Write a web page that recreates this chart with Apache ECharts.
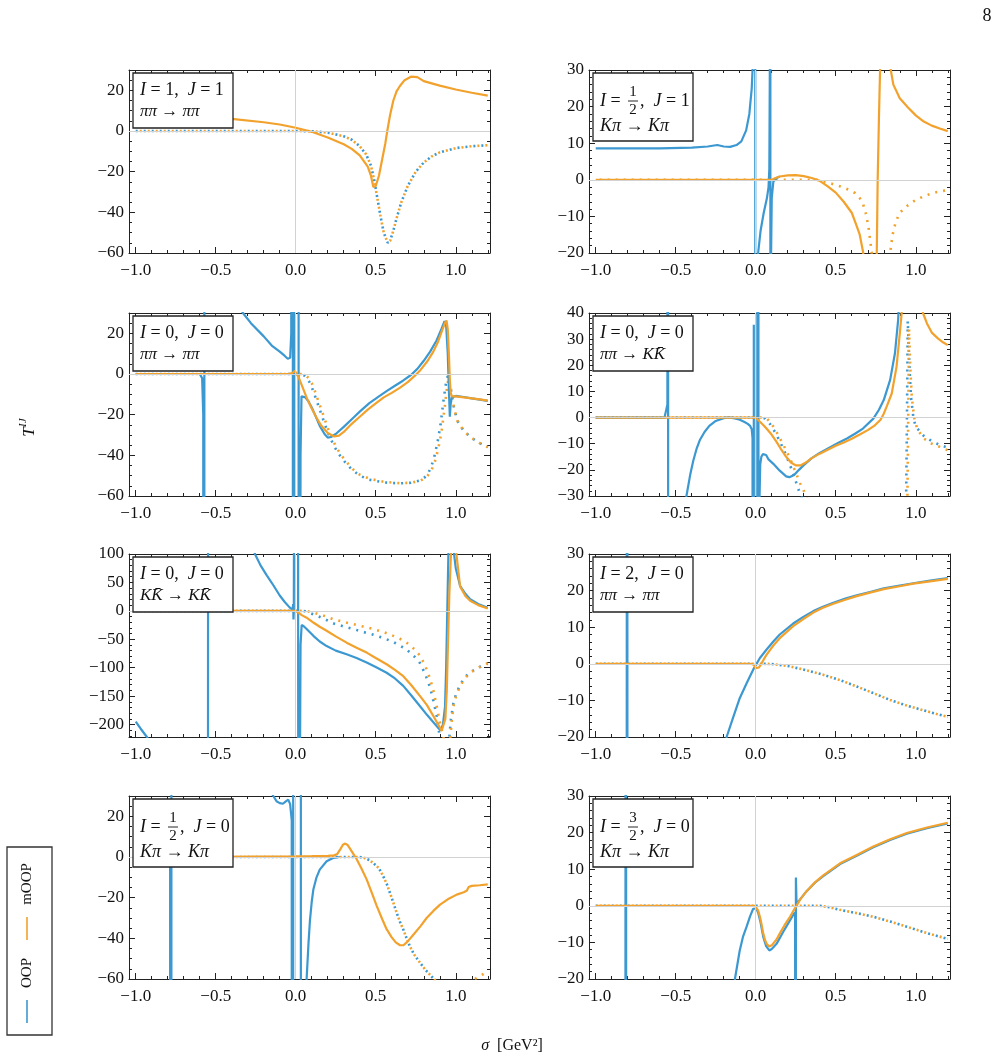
<!DOCTYPE html>
<html>
<head>
<meta charset="utf-8">
<script src="https://cdn.jsdelivr.net/npm/echarts@6.0.0/dist/echarts.min.js"></script>
<style>
  html, body { margin: 0; padding: 0; background: #fff; }
  #chart { width: 1003px; height: 1061px; }
</style>
</head>
<body>
<div id="chart"></div>
<script>
// ---- data: [sigma, T] pairs ----
// I=1, J=1, pipi -> pipi
const moopRe1 = [[-1, 9.6], [-0.8, 8.5], [-0.6, 7.3], [-0.4, 6.0], [-0.2, 4.3], [-0.1, 3.2], [0, 1.6], [0.1, -0.4], [0.2, -3.2], [0.3, -6.5], [0.35, -8.8], [0.4, -12], [0.45, -17.5], [0.47, -22], [0.485, -27.5], [0.5, -27], [0.52, -22], [0.54, -14], [0.56, -6], [0.572, 0], [0.59, 8], [0.61, 15], [0.63, 19.5], [0.65, 22], [0.68, 25], [0.72, 26.7], [0.76, 26.5], [0.8, 24.5], [0.9, 22.3], [1.0, 20.4], [1.1, 18.8], [1.2, 17.4]]
const im1 = [[-1, 0], [0, 0], [0.1, -0.1], [0.2, -0.8], [0.3, -2.6], [0.35, -4.3], [0.4, -7.5], [0.44, -11.5], [0.47, -17], [0.49, -24], [0.51, -33], [0.53, -42], [0.55, -50], [0.575, -55], [0.59, -54], [0.61, -49], [0.63, -43], [0.66, -35], [0.7, -27], [0.75, -20], [0.8, -15.5], [0.85, -12.5], [0.9, -10.5], [1.0, -8.4], [1.1, -7.5], [1.2, -7.0]]

// I=1/2, J=1, Kpi -> Kpi
const oopRe2 = [[-1, 8.6], [-0.6, 8.6], [-0.4, 8.8], [-0.3, 9.1], [-0.24, 9.5], [-0.2, 9.1], [-0.16, 9.0], [-0.12, 9.5], [-0.09, 10.5], [-0.06, 13.5], [-0.04, 18], [-0.025, 25], [-0.015, 35], [-0.008, 80], [-0.005, 3000], [-0.001, -3000], [0.008, -40], [0.015, -20], [0.03, -14], [0.05, -9], [0.07, -5], [0.08, -2], [0.085, 3], [0.088, 30], [0.09, 3000], [0.093, -3000], [0.096, -20], [0.1, -5], [0.11, -0.5], [0.13, 0.5], [0.15, 0.9]]
const moopRe2 = [[-1, 0], [0.1, 0], [0.12, 0.4], [0.15, 0.9], [0.2, 1.2], [0.25, 1.3], [0.3, 1.0], [0.35, 0.5], [0.4, -0.3], [0.45, -1.8], [0.5, -3.5], [0.55, -6], [0.6, -9], [0.63, -12.5], [0.65, -15], [0.67, -19.5], [0.69, -27], [0.71, -45], [0.73, -100], [0.74, -300], [0.748, -300], [0.755, -25], [0.762, 0], [0.77, 17], [0.777, 30], [0.79, 50], [0.81, 55], [0.825, 42], [0.84, 31], [0.86, 26], [0.9, 22.3], [0.95, 19.8], [1.0, 17.6], [1.05, 15.9], [1.1, 14.8], [1.15, 14], [1.2, 13.3]]
const moopIm2 = [[-1, 0], [0.38, 0], [0.42, -0.5], [0.47, -1], [0.53, -1.8], [0.58, -2.7], [0.62, -3.6], [0.65, -5], [0.67, -6.5], [0.69, -9.5], [0.705, -13], [0.715, -16.5], [0.725, -20], [0.74, -28], [0.78, -40], [0.82, -30], [0.84, -20], [0.855, -15], [0.875, -11.5], [0.9, -9], [0.95, -7], [1.0, -5.5], [1.05, -4.5], [1.1, -3.7], [1.15, -3.2], [1.2, -2.8]]

// I=0, J=0, pipi -> pipi
const oopRe3 = [[-1, 0], [-0.6, 0], [-0.585, -2], [-0.578, -20], [-0.574, -3000], [-0.568, 3000], [-0.45, 60], [-0.4, 42], [-0.33, 30], [-0.28, 25], [-0.2, 18.5], [-0.15, 14], [-0.1, 11], [-0.07, 9], [-0.05, 7.5], [-0.04, 7], [-0.035, 8], [-0.028, 20], [-0.02, 3000], [-0.016, -3000], [-0.008, -3000], [-0.004, 3000], [0.016, 3000], [0.02, -3000], [0.026, -300], [0.03, -40], [0.036, -11], [0.045, -10.5], [0.06, -11.5], [0.08, -13.5], [0.1, -16.5], [0.12, -20], [0.15, -25.5], [0.18, -29.5], [0.2, -31.3], [0.22, -31], [0.25, -29.5], [0.3, -26], [0.36, -21.5], [0.4, -18.5], [0.46, -14.3], [0.52, -11], [0.57, -8.3], [0.62, -5.8], [0.67, -3.3], [0.72, -0.5], [0.76, 2.5], [0.8, 6.5], [0.84, 11], [0.88, 16.5], [0.91, 22], [0.93, 26], [0.94, 24], [0.95, 10], [0.958, -10], [0.963, -21], [0.968, -15], [0.975, -11.5], [1.0, -10.8], [1.05, -11.3], [1.1, -12], [1.15, -12.6], [1.2, -13.2]]
const moopRe3 = [[-1, 0], [-0.05, 0], [-0.02, 0.5], [-0.005, 1.5], [0.005, 0.8], [0.02, -2], [0.04, -6], [0.07, -12], [0.1, -17], [0.13, -21.5], [0.16, -25.5], [0.2, -29], [0.24, -30.7], [0.27, -30.3], [0.3, -28.5], [0.35, -24.5], [0.4, -21], [0.45, -17.5], [0.5, -14.5], [0.55, -11.5], [0.6, -9.3], [0.65, -6.8], [0.7, -4], [0.74, -1.2], [0.78, 2], [0.82, 6], [0.86, 11], [0.89, 16], [0.915, 21.5], [0.932, 25], [0.942, 26.3], [0.95, 22], [0.958, 8], [0.963, -3], [0.968, -9], [0.975, -11], [1.0, -11], [1.05, -11.5], [1.1, -12], [1.15, -12.5], [1.2, -13.1]]
const oopIm3 = [[-1, 0], [0.03, 0], [0.05, -0.5], [0.07, -2], [0.09, -4.5], [0.11, -8.5], [0.13, -13], [0.15, -17.5], [0.17, -22], [0.19, -26.5], [0.21, -30.5], [0.24, -35.5], [0.27, -39.5], [0.31, -43.5], [0.35, -47], [0.4, -50], [0.46, -52], [0.55, -53.3], [0.65, -53.8], [0.72, -53.5], [0.78, -52.3], [0.82, -50], [0.845, -46], [0.865, -41], [0.885, -34], [0.905, -25], [0.925, -12], [0.94, -4], [0.95, -1], [0.96, -4], [0.975, -10], [0.99, -17], [1.01, -23], [1.05, -28], [1.1, -31.5], [1.15, -34], [1.2, -36]]
const moopIm3 = [[-1, 0], [0.04, 0], [0.06, -0.5], [0.08, -2], [0.1, -4.5], [0.12, -8.5], [0.14, -13], [0.16, -17.5], [0.18, -22], [0.2, -26.5], [0.22, -30.5], [0.25, -35.5], [0.28, -39.5], [0.32, -43.5], [0.36, -47], [0.4, -49.5], [0.46, -51.5], [0.55, -53], [0.65, -53.7], [0.72, -53.5], [0.78, -52.5], [0.82, -50.5], [0.85, -47], [0.87, -43], [0.89, -37], [0.91, -29], [0.93, -17], [0.945, -7], [0.955, -2], [0.965, -5], [0.975, -10], [0.99, -17], [1.01, -23], [1.05, -28], [1.1, -31.5], [1.15, -34], [1.2, -36]]

// I=0, J=0, pipi -> KKbar
const oopRe4 = [[-1, 0], [-0.57, 0], [-0.56, 0.5], [-0.552, 5], [-0.549, 3000], [-0.546, -3000], [-0.45, -40], [-0.433, -30], [-0.41, -22], [-0.39, -16.4], [-0.37, -12], [-0.35, -8.7], [-0.32, -5.5], [-0.29, -3.2], [-0.25, -1.3], [-0.2, -0.2], [-0.17, 0.1], [-0.13, -0.3], [-0.1, -0.8], [-0.07, -1.7], [-0.05, -2.4], [-0.035, -3.2], [-0.025, -4.5], [-0.02, -8], [-0.017, -3000], [-0.012, 35.5], [-0.009, -3000], [0.008, -3000], [0.012, 3000], [0.018, 3000], [0.022, -3000], [0.024, -30], [0.028, -18], [0.035, -15], [0.045, -14], [0.055, -13.6], [0.065, -14.3], [0.08, -16], [0.11, -17.7], [0.15, -20.3], [0.19, -22.5], [0.21, -22.8], [0.24, -22], [0.27, -20], [0.3, -18.2], [0.35, -15.5], [0.4, -13.5], [0.46, -11.5], [0.52, -9.5], [0.57, -8], [0.62, -6.2], [0.67, -4.2], [0.735, -0.4], [0.77, 3], [0.8, 6.7], [0.84, 14.4], [0.87, 24.6], [0.89, 37.4], [0.9, 50], [0.93, 150]]
const moopRe4 = [[-1, 0], [0.0, 0], [0.02, -1.2], [0.05, -3], [0.07, -4.4], [0.1, -6.6], [0.13, -9.3], [0.16, -12.3], [0.19, -15], [0.22, -17.2], [0.25, -18.3], [0.28, -18.3], [0.31, -17.3], [0.35, -15.5], [0.4, -13.8], [0.45, -12.3], [0.5, -10.8], [0.55, -9.5], [0.6, -8.1], [0.65, -6.5], [0.7, -4.8], [0.74, -3.2], [0.78, -0.8], [0.8, 1.5], [0.82, 4.5], [0.85, 9.2], [0.88, 19.5], [0.9, 32], [0.912, 40], [0.93, 70], [0.96, 150], [1.0, 90], [1.03, 50], [1.045, 40], [1.07, 36], [1.1, 32.5], [1.14, 30.2], [1.17, 28.8], [1.2, 27.7]]
const oopIm4 = [[-1, 0], [0.04, 0], [0.06, -0.4], [0.09, -2.5], [0.12, -5.5], [0.15, -9], [0.18, -13], [0.21, -17.5], [0.24, -22.5], [0.27, -28], [0.29, -31], [0.4, -45], [0.6, -60], [0.8, -65], [0.9, -60], [0.93, -45], [0.94, -30], [0.945, 0], [0.95, 37], [0.96, 20], [0.97, 8], [0.985, 0], [1.0, -3.5], [1.05, -7], [1.1, -9], [1.15, -10.5], [1.2, -11.5]]
const moopIm4 = [[-1, 0], [0.05, 0], [0.07, -0.4], [0.1, -2.5], [0.13, -5.5], [0.16, -9], [0.19, -12.5], [0.22, -16.5], [0.25, -21], [0.28, -25.5], [0.32, -30.5], [0.4, -42], [0.6, -60], [0.8, -65], [0.9, -60], [0.935, -45], [0.948, -30], [0.953, 0], [0.958, 34], [0.965, 20], [0.975, 8], [0.99, 0], [1.01, -4.5], [1.05, -8], [1.1, -10], [1.15, -11.2], [1.2, -12.5]]

// I=0, J=0, KKbar -> KKbar
const oopRe5 = [[-1, -195], [-0.97, -207], [-0.93, -222], [-0.85, -260], [-0.7, -400], [-0.6, -700], [-0.551, -3000], [-0.545, 3000], [-0.45, 400], [-0.35, 180], [-0.255, 100], [-0.22, 80], [-0.18, 62], [-0.14, 45], [-0.1, 27], [-0.07, 16], [-0.04, 6.5], [-0.02, 1.5], [-0.018, 1], [-0.016, 12], [-0.014, -15], [-0.012, 0], [0.0, 0], [0.01, 3000], [0.016, 3000], [0.02, -3000], [0.026, -300], [0.03, -60], [0.037, -25], [0.05, -27], [0.068, -32], [0.11, -44], [0.15, -54], [0.193, -62], [0.25, -70], [0.318, -76.5], [0.38, -83], [0.443, -91], [0.5, -99], [0.568, -109], [0.62, -119], [0.672, -132], [0.72, -148], [0.777, -168], [0.82, -183], [0.86, -196], [0.89, -206], [0.905, -210], [0.92, -200], [0.933, -168], [0.94, -100], [0.947, 0], [0.954, 100], [0.965, 200], [0.985, 110], [1.0, 75], [1.027, 44], [1.06, 30], [1.09, 20.6], [1.14, 12], [1.2, 5.5]]
const moopRe5 = [[-1, 0], [0.0, 0], [0.02, -4], [0.04, -8], [0.068, -12], [0.11, -20.6], [0.15, -28], [0.193, -35], [0.25, -45], [0.318, -56], [0.38, -65], [0.443, -73.5], [0.5, -83], [0.568, -94], [0.62, -104], [0.672, -115], [0.72, -130], [0.777, -150], [0.82, -166], [0.86, -185], [0.89, -200], [0.912, -211], [0.923, -212], [0.935, -190], [0.944, -140], [0.952, -50], [0.96, 30], [0.97, 100], [0.985, 180], [1.0, 110], [1.027, 43], [1.06, 26], [1.09, 17.6], [1.14, 10], [1.2, 4]]
const oopIm5 = [[-1, 0], [0.03, 0], [0.06, -0.7], [0.1, -5], [0.17, -13], [0.234, -22], [0.3, -27.5], [0.36, -32], [0.42, -37], [0.485, -42], [0.55, -48], [0.61, -55], [0.65, -61], [0.693, -68], [0.74, -80], [0.777, -92], [0.81, -112], [0.84, -135], [0.86, -158], [0.881, -185], [0.9, -222], [0.92, -260], [0.945, -300], [0.955, -250], [0.96, -222], [0.97, -190], [0.985, -163], [1.0, -148], [1.027, -130], [1.06, -116], [1.09, -108], [1.14, -100], [1.2, -93]]
const moopIm5 = [[-1, 0], [0.04, 0], [0.07, -0.5], [0.11, -3], [0.17, -8], [0.234, -14.7], [0.3, -19.5], [0.36, -23.5], [0.42, -27.5], [0.485, -32], [0.55, -37.5], [0.61, -44], [0.65, -49], [0.693, -56], [0.74, -67], [0.777, -79], [0.81, -97], [0.84, -120], [0.86, -140], [0.881, -168], [0.9, -195], [0.923, -222], [0.94, -260], [0.955, -300], [0.962, -250], [0.966, -222], [0.975, -195], [0.985, -168], [1.0, -152], [1.027, -132], [1.06, -118], [1.09, -109], [1.14, -100], [1.2, -92]]

// I=2, J=0, pipi -> pipi
const oopRe6 = [[-1, -300], [-0.808, -300], [-0.804, 300], [-0.8, -300], [-0.3, -300], [-0.182, -20], [-0.14, -14.5], [-0.1, -9.4], [-0.057, -5.3], [-0.016, -1.6], [0.026, 1.6], [0.068, 3.9], [0.11, 6.1], [0.15, 8], [0.234, 11], [0.3, 12.9], [0.36, 14.4], [0.42, 15.6], [0.485, 16.7], [0.56, 17.8], [0.631, 18.7], [0.72, 19.7], [0.8, 20.6], [0.9, 21.4], [0.985, 22], [1.1, 22.8], [1.2, 23.4]]
const moopRe6 = [[-1, 0], [-0.03, 0], [-0.01, -0.3], [0.0, -1.2], [0.01, -1.7], [0.02, -1], [0.035, 0], [0.05, 1.2], [0.068, 2.5], [0.11, 5], [0.15, 7], [0.234, 10.3], [0.3, 12.3], [0.36, 14], [0.42, 15.3], [0.485, 16.4], [0.56, 17.5], [0.631, 18.5], [0.72, 19.5], [0.8, 20.4], [0.9, 21.2], [0.985, 21.9], [1.1, 22.6], [1.2, 23.2]]
const im6 = [[-1, 0], [0.05, 0], [0.1, -0.05], [0.214, -0.7], [0.32, -1.8], [0.422, -3], [0.53, -4.5], [0.631, -6.2], [0.74, -8.1], [0.84, -9.9], [0.95, -11.5], [1.048, -12.7], [1.13, -13.7], [1.2, -14.5]]

// I=1/2, J=0, Kpi -> Kpi
const oopRe7 = [[-1, 0], [-0.82, 0], [-0.785, -2], [-0.779, -3000], [-0.775, 3000], [-0.6, 300], [-0.3, 60], [-0.2, 38], [-0.14, 30], [-0.12, 27.4], [-0.1, 26.5], [-0.08, 26.2], [-0.06, 27.5], [-0.047, 28.2], [-0.035, 26], [-0.025, 18], [-0.018, -3000], [-0.014, 3000], [0.03, 3000], [0.034, -3000], [0.06, -300], [0.068, -60], [0.08, -42], [0.089, -31], [0.1, -22], [0.11, -16], [0.13, -10], [0.15, -6.2], [0.193, -2.1], [0.234, -0.5], [0.276, 0]]
const moopRe7 = [[-1, 0], [-0.5, 0.1], [0, 0.3], [0.1, 0.4], [0.2, 0.6], [0.24, 0.8], [0.26, 1.5], [0.28, 4], [0.295, 6], [0.31, 6.6], [0.325, 5.8], [0.34, 4], [0.36, 1.5], [0.38, -1], [0.41, -5.5], [0.443, -11], [0.475, -17.5], [0.506, -24], [0.54, -30.5], [0.568, -35.5], [0.6, -39.5], [0.625, -42], [0.652, -43.4], [0.675, -43.3], [0.7, -41.5], [0.735, -38.2], [0.78, -34], [0.818, -30], [0.86, -26.5], [0.902, -23.4], [0.95, -20.8], [1.006, -18.5], [1.05, -17.3], [1.07, -16.5], [1.08, -14.8], [1.1, -14.2], [1.15, -13.9], [1.2, -13.5]]
const oopIm7 = [[-1, 0], [0.4, 0], [0.43, -0.5], [0.46, -1.5], [0.485, -3], [0.52, -5.5], [0.547, -9.5], [0.57, -13.5], [0.589, -17.7], [0.61, -22.5], [0.631, -27.5], [0.652, -32], [0.672, -35.7], [0.693, -40], [0.714, -44], [0.74, -48], [0.777, -52], [0.81, -55.5], [0.84, -58], [0.87, -60.5], [0.95, -66], [1.2, -75]]
const moopIm7 = [[-1, 0], [0.4, 0], [0.43, -0.5], [0.46, -1.5], [0.485, -3], [0.52, -5.5], [0.547, -9.5], [0.57, -13.5], [0.589, -17.7], [0.61, -22.5], [0.631, -27.5], [0.652, -32], [0.672, -35.7], [0.693, -40], [0.714, -44], [0.74, -48], [0.777, -52], [0.81, -55.5], [0.84, -58], [0.87, -60.5], [0.95, -65], [1.05, -65], [1.11, -60.5], [1.15, -58.5], [1.2, -56.5]]

// I=3/2, J=0, Kpi -> Kpi
const oopRe8 = [[-1, -300], [-0.816, -300], [-0.812, 300], [-0.808, -300], [-0.3, -300], [-0.14, -25], [-0.13, -20], [-0.1, -12.2], [-0.08, -8.5], [-0.057, -5.7], [-0.035, -2.8], [-0.016, -0.8], [-0.005, -0.4], [0.005, -0.8], [0.016, -2], [0.03, -4.5], [0.047, -8.5], [0.065, -11], [0.085, -12.2], [0.1, -11.8], [0.13, -10.4], [0.172, -7.1], [0.2, -5], [0.234, -2.5], [0.246, -1.8], [0.249, -300], [0.251, 7.7], [0.255, 0.5], [0.276, 1.7], [0.318, 4], [0.37, 6.3], [0.422, 8.1], [0.527, 11.4], [0.631, 13.7], [0.735, 16], [0.84, 18], [0.944, 19.7], [1.07, 21.2], [1.2, 22.5]]
const moopRe8 = [[-1, 0], [-0.005, 0], [0.005, -0.3], [0.015, -1.3], [0.026, -3], [0.036, -5], [0.047, -7.6], [0.058, -9.3], [0.068, -10.4], [0.085, -11.1], [0.1, -10.8], [0.11, -10.4], [0.13, -9.2], [0.15, -7.6], [0.18, -5.3], [0.214, -3], [0.235, -1.4], [0.255, 0], [0.28, 1.9], [0.318, 4], [0.37, 6.4], [0.422, 8.3], [0.527, 11.6], [0.631, 13.9], [0.735, 16.2], [0.84, 18.2], [0.944, 19.9], [1.07, 21.4], [1.2, 22.7]]
const im8 = [[-1, 0], [0.4, 0], [0.45, -0.3], [0.527, -1.1], [0.63, -2], [0.735, -3], [0.84, -4.3], [0.944, -5.7], [1.05, -7.2], [1.13, -8.2], [1.2, -9.0]]

// tick labels
const xTicks = [-1, -0.5, 0, 0.5, 1]
const yTicks20 = [-60, -40, -20, 0, 20]
const yTicks10a = [-20, -10, 0, 10, 20, 30]
const yTicks10b = [-30, -20, -10, 0, 10, 20, 30, 40]
const yTicks50 = [-200, -150, -100, -50, 0, 50, 100]

// ---- styling / layout ----
const BLUE = '#3c98d1'
const ORANGE = '#f2a22c'
const FONT = "'Liberation Serif', 'DejaVu Serif', serif"
const X_MIN = -1.042
const X_MAX = 1.214
const W = 361
const H = 183
const pos = [[129, 70], [589, 70], [129, 313], [589, 313], [129, 554], [589, 554], [129, 796], [589, 796]]

const panels = [
  { ymin: -60, ymax: 30, ticks: yTicks20, minor: 5, l1: '{it|I} = 1,  {it|J} = 1', l2: '{it|ππ} → {it|ππ}',
    lines: [[im1, BLUE, 1], [im1, ORANGE, 1], [moopRe1, ORANGE, 0]] },
  { ymin: -20, ymax: 30, ticks: yTicks10a, minor: 2, frac: ['1', '2'], j: '1', l2: '{it|Kπ} → {it|Kπ}',
    lines: [[moopIm2, ORANGE, 1], [oopRe2, BLUE, 0], [moopRe2, ORANGE, 0]] },
  { ymin: -60, ymax: 30, ticks: yTicks20, minor: 5, l1: '{it|I} = 0,  {it|J} = 0', l2: '{it|ππ} → {it|ππ}',
    lines: [[oopIm3, BLUE, 1], [moopIm3, ORANGE, 1], [oopRe3, BLUE, 0], [moopRe3, ORANGE, 0]] },
  { ymin: -30, ymax: 40, ticks: yTicks10b, minor: 2, l1: '{it|I} = 0,  {it|J} = 0', l2: '{it|ππ} → {it|KK\u0304}',
    lines: [[oopIm4, BLUE, 1], [moopIm4, ORANGE, 1], [oopRe4, BLUE, 0], [moopRe4, ORANGE, 0]] },
  { ymin: -222, ymax: 100, ticks: yTicks50, minor: 10, l1: '{it|I} = 0,  {it|J} = 0', l2: '{it|KK\u0304} → {it|KK\u0304}',
    lines: [[oopIm5, BLUE, 1], [moopIm5, ORANGE, 1], [oopRe5, BLUE, 0], [moopRe5, ORANGE, 0]] },
  { ymin: -20, ymax: 30, ticks: yTicks10a, minor: 2, l1: '{it|I} = 2,  {it|J} = 0', l2: '{it|ππ} → {it|ππ}',
    lines: [[im6, BLUE, 1], [im6, ORANGE, 1], [oopRe6, BLUE, 0], [moopRe6, ORANGE, 0]] },
  { ymin: -60, ymax: 30, ticks: yTicks20, minor: 5, frac: ['1', '2'], j: '0', l2: '{it|Kπ} → {it|Kπ}',
    lines: [[oopIm7, BLUE, 1], [moopIm7, ORANGE, 1], [oopRe7, BLUE, 0], [moopRe7, ORANGE, 0]] },
  { ymin: -20, ymax: 30, ticks: yTicks10a, minor: 2, frac: ['3', '2'], j: '0', l2: '{it|Kπ} → {it|Kπ}',
    lines: [[im8, BLUE, 1], [im8, ORANGE, 1], [oopRe8, BLUE, 0], [moopRe8, ORANGE, 0]] }
]

const xMinor = []
for (let k = -10; k <= 12; k++) xMinor.push(k / 10)

function minusFmt (v, dec) {
  const s = dec ? Math.abs(v).toFixed(dec) : String(Math.abs(v))
  return (v < 0 ? '\u2212' : '') + s
}

const grids = []
const xAxes = []
const yAxes = []
const series = []
const graphics = []

function axisBase (g, minor, ticks) {
  return {
    type: 'value',
    gridIndex: g,
    splitLine: { show: false },
    axisLine: { show: !minor, onZero: false, lineStyle: { color: '#222', width: 1 } },
    axisTick: { show: true, inside: true, length: minor ? 3 : 6, customValues: ticks, lineStyle: { color: '#222', width: 1 } },
    axisLabel: { show: false }
  }
}

panels.forEach((p, i) => {
  const [left, top] = pos[i]
  const yMinor = []
  for (let v = Math.ceil(p.ymin / p.minor) * p.minor; v <= p.ymax; v += p.minor) yMinor.push(v)

  // major grid (frame, labels, long ticks) and an overlay grid for minor ticks
  ;[false, true].forEach(minor => {
    const g = grids.length
    grids.push({ left: left, top: top, width: W, height: H })
    const xt = minor ? xMinor : xTicks
    const yt = minor ? yMinor : p.ticks
    const xb = Object.assign(axisBase(g, minor, xt), { min: X_MIN, max: X_MAX, position: 'bottom' })
    if (!minor) {
      xb.axisLabel = { show: true, customValues: xTicks, formatter: v => minusFmt(v, 1), fontFamily: FONT, fontSize: 17, color: '#111', margin: 9 }
    }
    const xtop = Object.assign(axisBase(g, minor, xt), { min: X_MIN, max: X_MAX, position: 'top' })
    const yl = Object.assign(axisBase(g, minor, yt), { min: p.ymin, max: p.ymax, position: 'left' })
    if (!minor) {
      yl.axisLabel = { show: true, customValues: p.ticks, formatter: v => minusFmt(v, 0), fontFamily: FONT, fontSize: 17, color: '#111', margin: 5 }
    }
    const yr = Object.assign(axisBase(g, minor, yt), { min: p.ymin, max: p.ymax, position: 'right' })
    xAxes.push(xb, xtop)
    yAxes.push(yl, yr)
  })

  const ax = i * 4
  // zero lines
  series.push({
    type: 'line', xAxisIndex: ax, yAxisIndex: ax, data: [], silent: true, animation: false,
    markLine: {
      silent: true, animation: false, symbol: ['none', 'none'], label: { show: false },
      lineStyle: { color: '#d2d2d2', width: 1, type: 'solid' },
      data: [{ yAxis: 0 }, { xAxis: 0 }]
    }
  })
  p.lines.forEach(([data, color, dotted]) => {
    series.push({
      type: 'line', xAxisIndex: ax, yAxisIndex: ax, data: data,
      showSymbol: false, symbol: 'none', silent: true, animation: false, clip: true,
      lineStyle: dotted
        ? { color: color, width: 2.6, type: [2, 6], dashOffset: color === ORANGE ? 4 : 0 }
        : { color: color, width: 2.2 }
    })
  })

  // inset label box
  const bx = left + 4
  const by = top + 3
  const bh = p.frac ? 68 : 55
  const rich = { it: { fontStyle: 'italic', fontFamily: FONT, fontSize: 18 } }
  const children = [{ type: 'rect', shape: { x: 0, y: 0, width: 100, height: bh }, style: { fill: '#fff', stroke: '#222', lineWidth: 1.3 } }]
  if (p.frac) {
    children.push(
      { type: 'text', x: 7, y: 28, style: { text: '{it|I} =', rich: rich, fontFamily: FONT, fontSize: 18, fill: '#111', verticalAlign: 'middle' } },
      { type: 'text', x: 40, y: 19, style: { text: p.frac[0], fontFamily: FONT, fontSize: 15, fill: '#111', align: 'center', verticalAlign: 'middle' } },
      { type: 'line', shape: { x1: 35, y1: 28, x2: 45, y2: 28 }, style: { stroke: '#111', lineWidth: 0.9 } },
      { type: 'text', x: 40, y: 37, style: { text: p.frac[1], fontFamily: FONT, fontSize: 15, fill: '#111', align: 'center', verticalAlign: 'middle' } },
      { type: 'text', x: 47, y: 28, style: { text: ',  {it|J} = ' + p.j, rich: rich, fontFamily: FONT, fontSize: 18, fill: '#111', verticalAlign: 'middle' } },
      { type: 'text', x: 7, y: 53, style: { text: p.l2, rich: rich, fontFamily: FONT, fontSize: 18, fill: '#111', verticalAlign: 'middle' } }
    )
  } else {
    children.push(
      { type: 'text', x: 7, y: 17, style: { text: p.l1, rich: rich, fontFamily: FONT, fontSize: 18, fill: '#111', verticalAlign: 'middle' } },
      { type: 'text', x: 7, y: 39, style: { text: p.l2, rich: { it: { fontStyle: 'italic', fontFamily: FONT, fontSize: 17 } }, fontFamily: FONT, fontSize: 17, fill: '#111', verticalAlign: 'middle' } }
    )
  }
  graphics.push({ type: 'group', x: bx, y: by, z: 100, children: children.map(c => Object.assign(c, { z: 100 })) })
})

// axis titles, page number, legend
graphics.push(
  { type: 'group', x: 30, y: 432, rotation: Math.PI / 2, z: 100, children: [
    { type: 'text', x: 0, y: 0, z: 100, style: { text: 'T', fontFamily: FONT, fontStyle: 'italic', fontSize: 17, fill: '#111', align: 'center', verticalAlign: 'middle' } },
    { type: 'text', x: 5, y: -7, z: 100, style: { text: 'IJ', fontFamily: FONT, fontStyle: 'italic', fontSize: 11, fill: '#111', align: 'left', verticalAlign: 'middle' } }
  ] },
  { type: 'text', x: 512, y: 1046, z: 100, style: { text: '{it|σ}  [GeV²]', rich: { it: { fontStyle: 'italic', fontFamily: FONT, fontSize: 16 } }, fontFamily: FONT, fontSize: 16, fill: '#111', align: 'center', verticalAlign: 'middle' } },
  { type: 'text', x: 987, y: 16, z: 100, style: { text: '8', fontFamily: FONT, fontSize: 18, fill: '#111', align: 'center', verticalAlign: 'middle' } },
  { type: 'group', x: 0, y: 0, z: 100, children: [
    { type: 'rect', z: 100, shape: { x: 7, y: 847, width: 45, height: 188 }, style: { fill: '#fff', stroke: '#333', lineWidth: 1.3 } },
    { type: 'line', z: 100, shape: { x1: 27, y1: 1000, x2: 27, y2: 1023 }, style: { stroke: BLUE, lineWidth: 1.6 } },
    { type: 'text', z: 100, x: 27, y: 973, rotation: Math.PI / 2, style: { text: 'OOP', fontFamily: FONT, fontSize: 15, fill: '#111', align: 'center', verticalAlign: 'middle' } },
    { type: 'line', z: 100, shape: { x1: 27, y1: 917, x2: 27, y2: 940 }, style: { stroke: ORANGE, lineWidth: 1.6 } },
    { type: 'text', z: 100, x: 27, y: 884, rotation: Math.PI / 2, style: { text: 'mOOP', fontFamily: FONT, fontSize: 15, fill: '#111', align: 'center', verticalAlign: 'middle' } }
  ] }
)

const chart = echarts.init(document.getElementById('chart'))
chart.setOption({
  animation: false,
  backgroundColor: '#fff',
  grid: grids,
  xAxis: xAxes,
  yAxis: yAxes,
  series: series,
  graphic: { elements: graphics }
})
</script>
</body>
</html>
